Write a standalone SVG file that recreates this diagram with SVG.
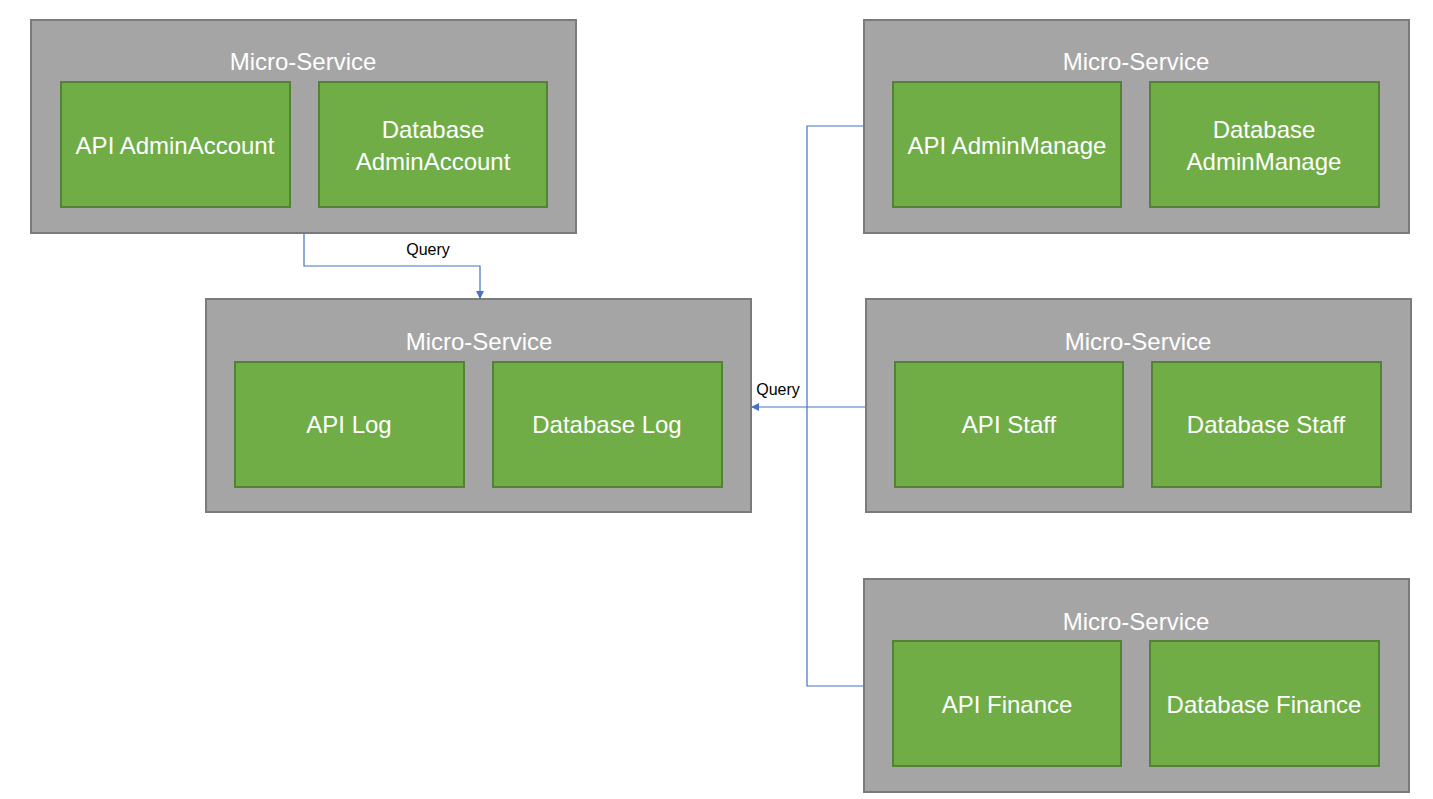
<svg xmlns="http://www.w3.org/2000/svg" width="1433" height="799" viewBox="0 0 1433 799">
<style>
.outer{fill:#a5a5a5;stroke:#7b7b7b;stroke-width:2}
.inner{fill:#70ad47;stroke:#548235;stroke-width:2}
.t{font-family:"Liberation Sans",Arial,sans-serif;font-size:24px;fill:#ffffff;text-anchor:middle}
.q{font-family:"Liberation Sans",Arial,sans-serif;font-size:16px;fill:#000000;text-anchor:middle}
.c{fill:none;stroke:#4472c4;stroke-width:1.2}
</style>
<defs>
<marker id="arr" markerWidth="8" markerHeight="8" refX="7" refY="4" orient="auto" markerUnits="userSpaceOnUse">
<path d="M0,0 L8,4 L0,8 Z" fill="#4472c4"/>
</marker>
</defs>
<rect width="1433" height="799" fill="#ffffff"/>
<g id="connectors">
<path class="c" d="M304,233 V266 H480 V298" marker-end="url(#arr)"/>
<path class="c" d="M866,407 H752" marker-end="url(#arr)"/>
<path class="c" d="M864,126 H807 V686 H864"/>
<text class="q" x="428" y="255">Query</text>
<text class="q" x="778" y="395">Query</text>
</g>
<g id="ms-adminaccount">
<rect class="outer" x="31" y="20" width="545" height="213"/>
<text class="t" x="303" y="70">Micro-Service</text>
<rect class="inner" x="61" y="82" width="229" height="125"/>
<text class="t" x="175" y="154">API AdminAccount</text>
<rect class="inner" x="319" y="82" width="228" height="125"/>
<text class="t" x="433" y="138">Database</text>
<text class="t" x="433" y="170">AdminAccount</text>
</g>
<g id="ms-log">
<rect class="outer" x="206" y="299" width="545" height="213"/>
<text class="t" x="479" y="350">Micro-Service</text>
<rect class="inner" x="235" y="362" width="229" height="125"/>
<text class="t" x="349" y="433">API Log</text>
<rect class="inner" x="493" y="362" width="229" height="125"/>
<text class="t" x="607" y="433">Database Log</text>
</g>
<g id="ms-adminmanage">
<rect class="outer" x="864" y="20" width="545" height="213"/>
<text class="t" x="1136" y="70">Micro-Service</text>
<rect class="inner" x="893" y="82" width="228" height="125"/>
<text class="t" x="1007" y="154">API AdminManage</text>
<rect class="inner" x="1150" y="82" width="229" height="125"/>
<text class="t" x="1264" y="138">Database</text>
<text class="t" x="1264" y="170">AdminManage</text>
</g>
<g id="ms-staff">
<rect class="outer" x="866" y="299" width="545" height="213"/>
<text class="t" x="1138" y="350">Micro-Service</text>
<rect class="inner" x="895" y="362" width="228" height="125"/>
<text class="t" x="1009" y="433">API Staff</text>
<rect class="inner" x="1152" y="362" width="229" height="125"/>
<text class="t" x="1266" y="433">Database Staff</text>
</g>
<g id="ms-finance">
<rect class="outer" x="864" y="579" width="545" height="213"/>
<text class="t" x="1136" y="630">Micro-Service</text>
<rect class="inner" x="893" y="641" width="228" height="125"/>
<text class="t" x="1007" y="713">API Finance</text>
<rect class="inner" x="1150" y="641" width="229" height="125"/>
<text class="t" x="1264" y="713">Database Finance</text>
</g>
</svg>
